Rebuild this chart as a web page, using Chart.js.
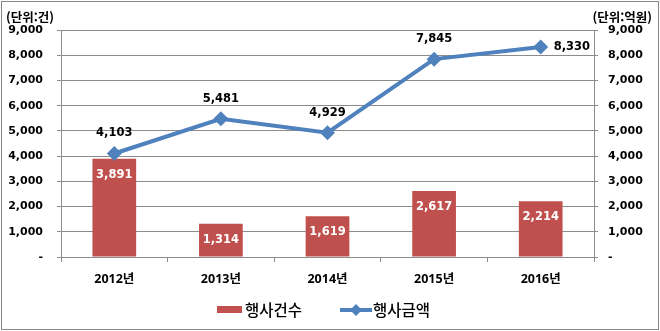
<!DOCTYPE html>
<html lang="ko">
<head>
<meta charset="utf-8">
<title>연도별 행사건수 및 행사금액</title>
<script src="https://cdn.jsdelivr.net/npm/chart.js@4.4.1/dist/chart.umd.min.js"></script>
<style>
  html, body { margin: 0; padding: 0; background: #fff; }
  #wrap { width: 660px; height: 331px; position: relative; }
</style>
</head>
<body>
<div id="wrap"><canvas id="eventChart" width="660" height="331"></canvas></div>
<script>
// 연도별 데이터
const years = ['2012년', '2013년', '2014년', '2015년', '2016년'];
const eventCounts = [3891, 1314, 1619, 2617, 2214];   // 행사건수 (건)
const eventAmounts = [4103, 5481, 4929, 7845, 8330];  // 행사금액 (억원)
const axisMax = 9000;
const axisStep = 1000;

const BAR_COLOR = '#C0504D';
const LINE_COLOR = '#4F81BD';
const GRID_COLOR = '#8C8C8C';
const NUM_FONT = "'DejaVu Sans', 'Noto Sans CJK KR', sans-serif";
const KR_FONT = "'Noto Sans CJK KR', sans-serif";

const fmt = v => v === 0 ? '-' : v.toLocaleString('en-US');

// 막대 안쪽 / 꺾은선 위쪽 값 표시, 단위 표기, 범례, 테두리
const decorPlugin = {
    id: 'decor',
    beforeDraw(chart) {
        const ctx = chart.ctx;
        ctx.save();
        ctx.fillStyle = '#fff';
        ctx.fillRect(0, 0, chart.width, chart.height);
        ctx.restore();
    },
    afterDatasetsDraw(chart) {
        const ctx = chart.ctx;
        ctx.save();
        ctx.textAlign = 'center';
        ctx.textBaseline = 'middle';

        // 막대 값 (흰색, 막대 상단 안쪽)
        const barMeta = chart.getDatasetMeta(0);
        ctx.font = `bold 11.5px ${NUM_FONT}`;
        ctx.fillStyle = '#fff';
        barMeta.data.forEach((bar, i) => {
            ctx.fillText(fmt(eventCounts[i]), bar.x, bar.y + 16);
        });

        // 꺾은선 값 (검정, 점 위쪽 / 마지막 점은 오른쪽)
        const lineMeta = chart.getDatasetMeta(1);
        ctx.fillStyle = '#000';
        lineMeta.data.forEach((pt, i) => {
            const label = fmt(eventAmounts[i]);
            if (i === lineMeta.data.length - 1) {
                ctx.textAlign = 'left';
                ctx.fillText(label, pt.x + 13, pt.y);
                ctx.textAlign = 'center';
            } else {
                ctx.fillText(label, pt.x, pt.y - 20);
            }
        });
        ctx.restore();
    },
    afterDraw(chart) {
        const ctx = chart.ctx;
        const area = chart.chartArea;
        ctx.save();

        // 단위 표기
        ctx.fillStyle = '#000';
        ctx.font = `bold 12.5px ${KR_FONT}`;
        ctx.textBaseline = 'middle';
        ctx.textAlign = 'left';
        ctx.fillText('(단위:건)', 6, 17);
        ctx.textAlign = 'right';
        ctx.fillText('(단위:억원)', 652, 17);

        // 범례
        const legendY = area.bottom + 53;
        ctx.fillStyle = BAR_COLOR;
        ctx.fillRect(217, legendY - 4, 25, 7);
        ctx.fillStyle = '#000';
        ctx.font = `500 15.5px ${KR_FONT}`;
        ctx.textAlign = 'left';
        ctx.fillText('행사건수', 245, legendY);

        ctx.strokeStyle = LINE_COLOR;
        ctx.lineWidth = 4;
        ctx.beginPath();
        ctx.moveTo(340, legendY);
        ctx.lineTo(372, legendY);
        ctx.stroke();
        ctx.fillStyle = LINE_COLOR;
        ctx.beginPath();
        ctx.moveTo(356, legendY - 6);
        ctx.lineTo(362, legendY);
        ctx.lineTo(356, legendY + 6);
        ctx.lineTo(350, legendY);
        ctx.closePath();
        ctx.fill();
        ctx.fillStyle = '#000';
        ctx.fillText('행사금액', 373, legendY);

        // 바깥 테두리
        ctx.strokeStyle = '#888';
        ctx.lineWidth = 1;
        ctx.strokeRect(1.5, 1.5, chart.width - 3, chart.height - 3);
        ctx.restore();
    }
};

const yTicks = {
    stepSize: axisStep,
    color: '#000',
    font: { family: NUM_FONT, size: 11, weight: 'bold' },
    callback: v => fmt(v)
};

new Chart(document.getElementById('eventChart'), {
    data: {
        labels: years,
        datasets: [{
            type: 'bar',
            label: '행사건수',
            data: eventCounts,
            backgroundColor: BAR_COLOR,
            categoryPercentage: 1,
            barPercentage: 0.41,
            yAxisID: 'y',
            order: 1
        }, {
            type: 'line',
            label: '행사금액',
            data: eventAmounts,
            borderColor: LINE_COLOR,
            backgroundColor: LINE_COLOR,
            borderWidth: 4,
            pointStyle: 'rectRot',
            pointRadius: 7.5,
            pointBorderWidth: 0,
            tension: 0,
            yAxisID: 'y1',
            order: 0
        }]
    },
    options: {
        responsive: false,
        animation: false,
        layout: { padding: { top: 30, bottom: 44, left: 0, right: 0 } },
        plugins: {
            legend: { display: false },
            tooltip: { enabled: false }
        },
        scales: {
            x: {
                grid: {
                    offset: true,
                    drawOnChartArea: false,
                    tickLength: 5,
                    color: GRID_COLOR
                },
                border: { color: GRID_COLOR },
                ticks: {
                    color: '#000',
                    padding: 10,
                    font: { family: "'Open Sans', 'Noto Sans CJK KR', sans-serif", size: 12.5, weight: 'bold' }
                },
                afterFit: s => { s.height = 30; }
            },
            y: {
                position: 'left',
                min: 0,
                max: axisMax,
                grid: { color: GRID_COLOR, tickLength: 4 },
                border: { color: GRID_COLOR },
                ticks: { ...yTicks, padding: 14 },
                afterFit: s => { s.width = 61; }
            },
            y1: {
                position: 'right',
                min: 0,
                max: axisMax,
                grid: { drawOnChartArea: false, color: GRID_COLOR, tickLength: 4 },
                border: { color: GRID_COLOR },
                ticks: { ...yTicks, padding: 10 },
                afterFit: s => { s.width = 66; }
            }
        }
    },
    plugins: [decorPlugin]
});
</script>
</body>
</html>
